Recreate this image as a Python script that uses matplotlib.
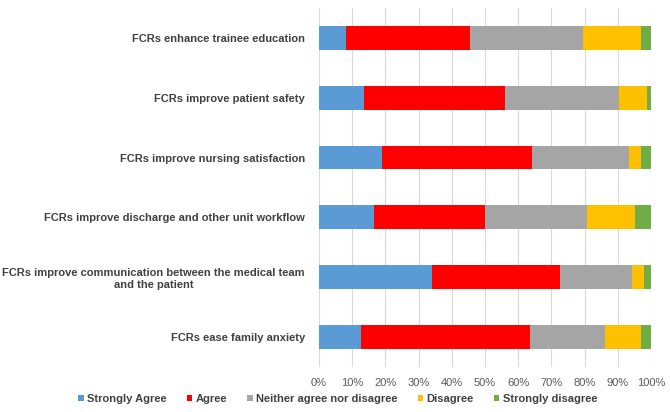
import matplotlib
matplotlib.use('Agg')
import matplotlib.pyplot as plt
import numpy as np

# survey statements (top to bottom) and percentage of responses
statements = [
    'FCRs enhance trainee education',
    'FCRs improve patient safety',
    'FCRs improve nursing satisfaction',
    'FCRs improve discharge and other unit workflow',
    'FCRs improve communication between the medical team\nand the patient',
    'FCRs ease family anxiety',
]
strongly_agree = [8.1, 13.6, 19.0, 16.5, 34.2, 12.8]
agree = [37.3, 42.5, 45.2, 33.4, 38.5, 50.7]
neither = [34.2, 34.4, 29.1, 30.8, 21.5, 22.6]
disagree = [17.3, 8.2, 3.6, 14.4, 3.6, 10.8]
strongly_disagree = [3.1, 1.3, 3.1, 4.9, 2.2, 3.1]

series_names = ['Strongly Agree', 'Agree', 'Neither agree nor disagree',
                'Disagree', 'Strongly disagree']
colors = ['#5B9BD5', '#FF0000', '#A5A5A5', '#FFC000', '#70AD47']
xticks = np.arange(0, 101, 10)

plt.rcParams['font.family'] = ['Liberation Sans', 'DejaVu Sans']

fig = plt.figure(figsize=(6.7, 4.12), dpi=100)
ax = fig.add_axes([0.476, 0.109, 0.4955, 0.872])

y = np.arange(len(statements))
left = np.zeros(len(statements))
for vals, name, c in zip([strongly_agree, agree, neither, disagree, strongly_disagree],
                         series_names, colors):
    vals = np.array(vals)
    ax.barh(y, vals, left=left, height=0.4, color=c, label=name, zorder=3)
    left += vals

ax.set_ylim(len(statements) - 0.5, -0.5)
ax.set_xlim(0, 100)
ax.set_xticks(xticks)
ax.set_xticklabels(['%d%%' % t for t in xticks], color='#595959', fontsize=8)
ax.set_yticks(y)
ax.set_yticklabels(statements, fontsize=8, fontweight='bold', color='#404040',
                   multialignment='center')
ax.tick_params(length=0, pad=8)
ax.tick_params(axis='y', pad=10)
ax.grid(axis='x', color='#D9D9D9', lw=0.8, zorder=0)
for s in ax.spines.values():
    s.set_visible(False)

leg = fig.legend(loc='lower center', bbox_to_anchor=(0.504, -0.005), ncol=5, frameon=False,
                 handlelength=0.5, handleheight=0.5, handletextpad=0.3,
                 columnspacing=1.8, prop={'size': 8, 'weight': 'bold'})
for t in leg.get_texts():
    t.set_color('#404040')

fig.savefig('out.png', dpi=100)
